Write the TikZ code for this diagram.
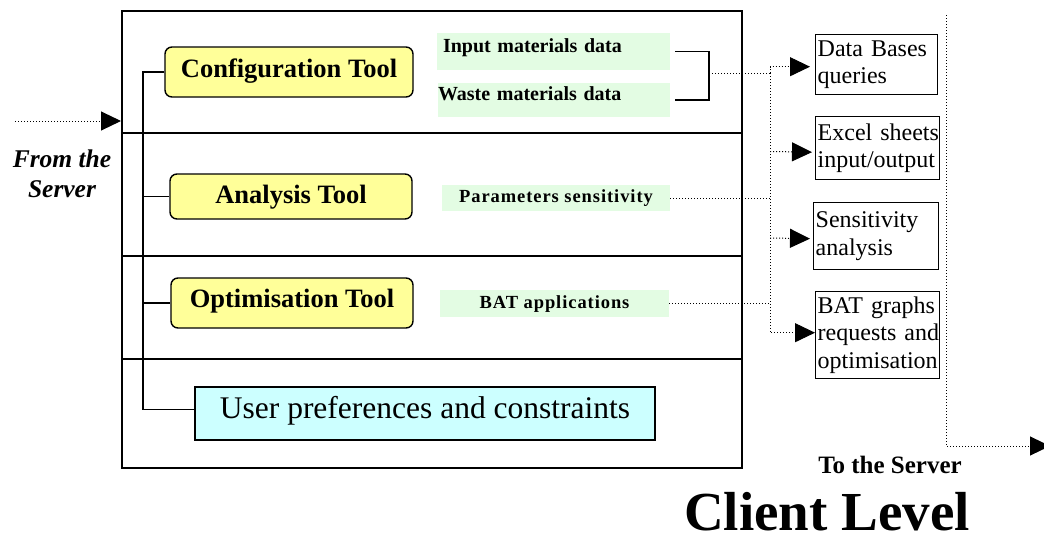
\documentclass[tikz,border=0pt]{standalone}
\usepackage{fontspec}
\setmainfont{Liberation Serif}
\newfontfamily\spacedserif[LetterSpace=5]{Liberation Serif}
\usetikzlibrary{arrows.meta}

\definecolor{toolyellow}{HTML}{FFFF99}
\definecolor{prefcyan}{HTML}{CCFFFF}
\definecolor{datagreen}{HTML}{E3FCE3}

\begin{document}
\begin{tikzpicture}[x=1pt,y=-1pt,
  every node/.style={inner sep=0pt},
  tool/.style={draw, line width=1.4pt, rounded corners=7pt, fill=toolyellow,
    font=\fontsize{26.5}{28}\selectfont\bfseries},
  datalabel/.style={fill=datagreen, font=\fontsize{20}{22}\selectfont\bfseries},
  smalldata/.style={fill=datagreen, font=\fontsize{18.5}{20}\selectfont\spacedserif\bfseries},
  output/.style={draw, line width=1.4pt, align=left, anchor=north west,
    font=\fontsize{24}{27.5}\selectfont, inner xsep=2pt},
  bus/.style={line width=1.6pt},
  dotline/.style={line width=1pt, dash pattern=on 1pt off 2pt},
  tip/.style={-{Triangle[length=20pt,width=19pt]}}
]
\useasboundingbox (0,0) rectangle (1044,544);

% client frame and its four bands
\node[draw, line width=1.6pt, minimum width=620, minimum height=457, anchor=north west] (client) at (121,10) {};
\foreach \yy in {133,256,359}
  \draw[line width=1.2pt] (client.west |- 0,\yy) -- (client.east |- 0,\yy);

% tools
\node[tool, minimum width=248, text height=30, text depth=20] (cfg) at (289,72) {Configuration Tool};
\node[tool, minimum width=242, text height=29, text depth=16] (ana) at (291,196.5) {Analysis Tool};
\node[tool, minimum width=242, text height=29, text depth=21] (opt) at (292,303) {Optimisation Tool};
\node[draw, line width=1.4pt, fill=prefcyan, minimum width=460, text height=31, text depth=22,
  font=\fontsize{31.5}{34}\selectfont] (user) at (425,413.5) {User preferences and constraints};

% data handled by each tool
\node[datalabel, text width=221, inner xsep=6pt, align=left, text height=19, text depth=18] (inp) at (553.5,51.5) {Input materials data};
\node[datalabel, text width=232, align=left, text height=17, text depth=17] (was) at (554,100) {Waste materials data};
\node[smalldata, minimum width=228, text height=17, text depth=9] (par) at (556,198) {Parameters sensitivity};
\node[smalldata, minimum width=229, text height=18, text depth=9] (bat) at (554.5,303.5) {BAT applications};

% outputs
\node[output, text width=118, minimum height=60] (db) at (815,34) {Data~Bases\\queries};
\node[output, text width=120, minimum height=63] (xl) at (815,116) {Excel~sheets\\input/output};
\node[output, text width=121, minimum height=67] (sens) at (813,202) {Sensitivity\\analysis};
\node[output, text width=120, minimum height=87] (batg) at (815,291) {BAT~graphs\\requests~and\\optimisation};

% spine linking the tools
\coordinate (spine) at (143,72);
\draw[bus] (cfg.west) -- (spine) |- ([yshift=4pt]user.west);
\draw[bus] (spine |- ana.west) -- (ana.west);
\draw[bus] (spine |- opt.west) -- (opt.west);

% bracket joining the two material data sets
\coordinate (brk) at (709,73);
\draw[line width=1.4pt] ([xshift=5pt]inp.east) -| (brk) |- ([xshift=5pt]was.east);

% dotted request lines to the outputs
\coordinate (hub) at (770,73);
\draw[dotline] (brk) -- (hub);
\draw[dotline] (par.east) -- (hub |- par.east);
\draw[dotline] (bat.east) -- (hub |- bat.east);
\draw[dotline, tip, shorten >=5pt] (hub) |- ([yshift=-2pt]db.west);
\draw[dotline, tip, shorten >=3pt] (hub |- 0,151.5) -- ([yshift=-4pt]xl.west);
\draw[dotline, tip, shorten >=3pt] (hub |- 0,238) -- ([yshift=-2.5pt]sens.west);
\draw[dotline, tip] (hub) |- ([yshift=2.5pt]batg.west);

% links with the server
\coordinate (srvIn) at (15,121);
\draw[dotline, tip] (srvIn) -- (srvIn -| client.west);
\coordinate (srvTop) at (946,15);
\coordinate (srvOut) at (1050,446);
\draw[dotline, tip] (srvTop) |- (srvOut);

% captions
\node[font=\fontsize{25.5}{30}\selectfont\bfseries\itshape, align=center] (from) at (62,174) {From the\\Server};
\node[font=\fontsize{25}{26}\selectfont\bfseries, anchor=base] (to) at (890,473) {To the Server};
\node[font=\fontsize{55}{58}\selectfont\bfseries, anchor=base] (title) at (827,530) {Client Level};
\end{tikzpicture}
\end{document}
